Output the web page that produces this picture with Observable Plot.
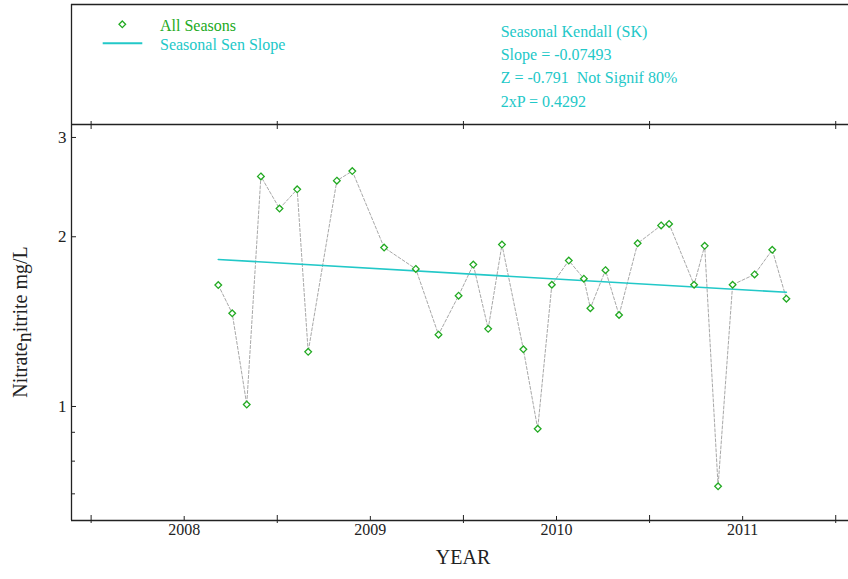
<!DOCTYPE html>
<html><head><meta charset="utf-8">
<script src="https://cdn.jsdelivr.net/npm/d3@7"></script>
<script src="https://cdn.jsdelivr.net/npm/@observablehq/plot@0.6"></script>
<style>
body{margin:0;background:#fff;}
#chart{position:relative;width:848px;height:579px;overflow:hidden;}
</style>
</head><body><div id="chart"></div>
<script>
// Sample dates (decimal year) and Nitrate_nitrite values (mg/L)
const years = [2008.183, 2008.258, 2008.336, 2008.412, 2008.512, 2008.607, 2008.666, 2008.820, 2008.903,
  2009.074, 2009.244, 2009.366, 2009.474, 2009.553, 2009.633, 2009.707, 2009.822, 2009.899, 2009.975,
  2010.066, 2010.147, 2010.182, 2010.263, 2010.336, 2010.436, 2010.562, 2010.605, 2010.739, 2010.796,
  2010.868, 2010.946, 2011.064, 2011.159, 2011.235];
const values = [1.642, 1.463, 1.008, 2.559, 2.244, 2.427, 1.250, 2.515, 2.615,
  1.914, 1.754, 1.341, 1.572, 1.785, 1.373, 1.937, 1.263, 0.913, 1.644,
  1.815, 1.685, 1.494, 1.745, 1.453, 1.947, 2.095, 2.107, 1.644, 1.927,
  0.722, 1.644, 1.715, 1.896, 1.553];
// Seasonal Sen slope line endpoints
const trendYears = [2008.183, 2011.235];
const trendValues = [1.823, 1.594];
// Axes
const xTickYears = [2008, 2009, 2010, 2011];
const xMidTicks = [2007.5, 2008.5, 2009.5, 2010.5, 2011.5];
const yTickValues = [1, 2, 3];
const yMinorValues = [0.7, 0.8, 0.9];
const xDomain = [2007.3946, 2011.5686];
const yDomain = [0.6278, 3.163];
// Legend / stats texts
const legendLabels = ["All Seasons", "Seasonal Sen Slope"];
const statLines = ["Seasonal Kendall (SK)", "Slope = -0.07493", "Z = -0.791  Not Signif 80%", "2xP = 0.4292"];

const green = "#22aa22", cyan = "#22c8c8", ink = "#222";
const data = years.map((x, i) => ({x, y: values[i]}));
const trend = trendYears.map((x, i) => ({x, y: trendValues[i]}));

const plot = Plot.plot({
  width: 848, height: 579,
  marginLeft: 71, marginRight: 0, marginTop: 124, marginBottom: 59,
  style: {fontFamily: "'Liberation Serif', 'Times New Roman', serif", background: "white", overflow: "visible", color: ink},
  x: {type: "linear", domain: xDomain, axis: null},
  y: {type: "log", domain: yDomain, axis: null},
  marks: [
    Plot.line(data, {x: "x", y: "y", stroke: "#a8a8a8", strokeWidth: 1, strokeDasharray: "3,2"}),
    Plot.line(trend, {x: "x", y: "y", stroke: cyan, strokeWidth: 1.6}),
    Plot.dot(data, {x: "x", y: "y", symbol: "diamond2", r: 3, stroke: green, fill: "white", strokeWidth: 1.3}),
    // frame lines
    Plot.ruleX([xDomain[0]], {x: d => d, stroke: ink, strokeWidth: 1.3, insetTop: -120}),
    Plot.ruleY([yDomain[0]], {y: d => d, stroke: ink, strokeWidth: 1.3}),
    Plot.ruleY([yDomain[1]], {y: d => d, stroke: ink, strokeWidth: 1.3}),
    Plot.ruleY([yDomain[1]], {y: d => d, stroke: ink, strokeWidth: 1.3, dy: -120}),
    // x ticks: long crossing ticks at mid-year, short inward ticks at labels
    Plot.tickX(xMidTicks, {x: d => d, stroke: ink, strokeWidth: 1, insetTop: 391, insetBottom: -3}),
    Plot.tickX(xMidTicks, {x: d => d, stroke: ink, strokeWidth: 1, insetTop: -3, insetBottom: 391}),
    Plot.tickX(xTickYears, {x: d => d, stroke: ink, strokeWidth: 1, insetTop: 392}),
    // y ticks
    Plot.tickY(yTickValues, {y: d => d, stroke: ink, strokeWidth: 1, insetRight: 772}),
    Plot.tickY(yMinorValues, {y: d => d, stroke: ink, strokeWidth: 1, insetRight: 773}),
    // tick labels
    Plot.text(xTickYears, {x: d => d, text: d => String(d), frameAnchor: "bottom", dy: 14, fontSize: 16, fill: ink}),
    Plot.text(yTickValues, {y: d => d, text: d => String(d), frameAnchor: "left", dx: -5, textAnchor: "end", fontSize: 17, fill: ink}),
    Plot.text(["YEAR"], {text: d => d, frameAnchor: "bottom", dx: 3, dy: 43, fontSize: 20, fill: ink})
  ]
});
document.getElementById("chart").appendChild(plot);

// y-axis title with subscript, legend and statistics block
const svg = d3.select(plot);
const ylab = svg.append("text")
  .attr("transform", "translate(27,322) rotate(-90)")
  .attr("text-anchor", "middle")
  .attr("font-size", 20).attr("fill", ink);
ylab.append("tspan").text("Nitrate");
ylab.append("tspan").attr("dy", 4).text("n");
ylab.append("tspan").attr("dy", -4).text("itrite mg/L");

const lg = svg.append("g").attr("font-size", 16).attr("text-anchor", "start");
lg.append("path").attr("d", "M122.3,21 L125.6,24.3 L122.3,27.6 L119,24.3Z")
  .attr("fill", "white").attr("stroke", green).attr("stroke-width", 1.3);
lg.append("line").attr("x1", 102.7).attr("x2", 142.3).attr("y1", 43.3).attr("y2", 43.3)
  .attr("stroke", cyan).attr("stroke-width", 2);
lg.append("text").attr("x", 160).attr("y", 30.5).attr("fill", green).attr("text-anchor", "start").text(legendLabels[0]);
lg.append("text").attr("x", 160).attr("y", 49.5).attr("fill", cyan).attr("text-anchor", "start").text(legendLabels[1]);
const baselines = [37.3, 60, 83.3, 106.7];
statLines.forEach((t, i) => {
  lg.append("text").attr("x", 500.7).attr("y", baselines[i]).attr("fill", cyan).attr("text-anchor", "start")
    .style("white-space", "pre").attr("xml:space", "preserve").text(t);
});
</script>
</body></html>
